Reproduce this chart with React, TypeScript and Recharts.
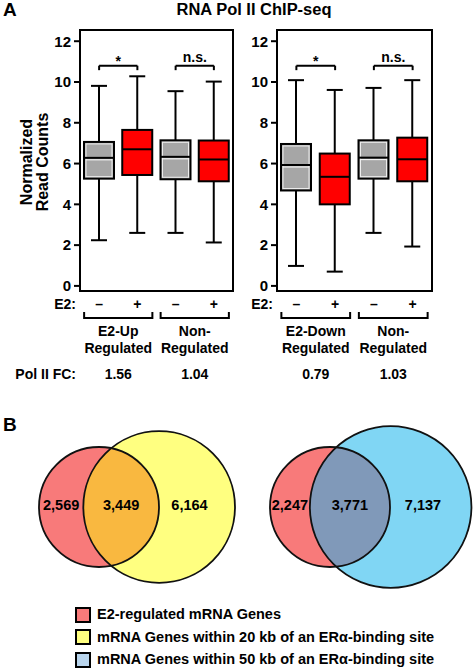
import React from "react";
import {
  ComposedChart,
  Bar,
  XAxis,
  YAxis,
  ReferenceLine,
  ReferenceArea,
  ScatterChart,
  Scatter,
  ZAxis,
} from "recharts";

const FONT = "'Liberation Sans', Arial, sans-serif";

// Panel A — box plot summaries, normalized read counts
const treatments = ["–", "+", "–", "+"];
const boxColors = ["#a6a6a6", "#ff0000", "#a6a6a6", "#ff0000"];

const upKeys = ["up-", "up+", "non-", "non+"];
const upMin = [2.24, 2.6, 2.6, 2.13];
const upQ1 = [5.26, 5.44, 5.23, 5.13];
const upMedian = [6.28, 6.7, 6.33, 6.2];
const upQ3 = [7.06, 7.65, 7.14, 7.13];
const upMax = [9.81, 10.28, 9.55, 10.02];
const upGroups = [["E2-Up", "Regulated"], ["Non-", "Regulated"]];
const upFoldChange = ["1.56", "1.04"];
const upSignif = ["*", "n.s."];

const downKeys = ["down-", "down+", "non-", "non+"];
const downMin = [0.98, 0.7, 2.6, 1.93];
const downQ1 = [4.68, 4.0, 5.26, 5.13];
const downMedian = [5.93, 5.35, 6.29, 6.21];
const downQ3 = [6.96, 6.49, 7.14, 7.27];
const downMax = [10.09, 9.61, 9.71, 10.09];
const downGroups = [["E2-Down", "Regulated"], ["Non-", "Regulated"]];
const downFoldChange = ["0.79", "1.03"];
const downSignif = ["*", "n.s."];

const yTicks = [0, 2, 4, 6, 8, 10, 12];
const yDomain = [-0.25, 12.55];
const bracketY = 10.8;

// Panel B — Venn counts: [E2-regulated only, overlap, ERα-bound only]
const venn20kb = [2569, 3449, 6164];
const venn50kb = [2247, 3771, 7137];
const legendLabels = [
  "E2-regulated mRNA Genes",
  "mRNA Genes within 20 kb of an ERα-binding site",
  "mRNA Genes within 50 kb of an ERα-binding site",
];
const legendColors = ["#f87a7a", "#ffff80", "#b8d4ec"];

const txt = { fill: "#000", fontWeight: 700, fontFamily: FONT };

function BoxShape(props: any) {
  const { x, y, width, height, payload } = props;
  const k = height / (payload.max - payload.min);
  const py = (v: number) => y + (payload.max - v) * k;
  const cx = x + width / 2;
  const gray = payload.color !== "#ff0000";
  return (
    <g>
      <line x1={cx} x2={cx} y1={py(payload.max)} y2={py(payload.min)} stroke="#000" strokeWidth={2} />
      <line x1={cx - 8} x2={cx + 8} y1={py(payload.max)} y2={py(payload.max)} stroke="#000" strokeWidth={2} />
      <line x1={cx - 8} x2={cx + 8} y1={py(payload.min)} y2={py(payload.min)} stroke="#000" strokeWidth={2} />
      <rect
        x={x}
        y={py(payload.q3)}
        width={width}
        height={py(payload.q1) - py(payload.q3)}
        fill={payload.color}
        stroke="#000"
        strokeWidth={2}
      />
      {gray && (
        <rect
          x={x + 2}
          y={py(payload.q3) + 2}
          width={width - 4}
          height={py(payload.q1) - py(payload.q3) - 4}
          fill="none"
          stroke="#fff"
          strokeWidth={1}
          opacity={0.8}
        />
      )}
      <line x1={x} x2={x + width} y1={py(payload.median)} y2={py(payload.median)} stroke="#000" strokeWidth={2} />
      {gray && (
        <line x1={x + 2} x2={x + width - 2} y1={py(payload.median) + 2} y2={py(payload.median) + 2} stroke="#fff" strokeWidth={1} />
      )}
    </g>
  );
}

interface PanelProps {
  keys: string[];
  min: number[];
  q1: number[];
  median: number[];
  q3: number[];
  max: number[];
  groups: string[][];
  foldChange: string[];
  signif: string[];
  left: number;
  margin: { top: number; right: number; bottom: number; left: number };
  showFcLabel?: boolean;
}

const CHART_W = 240;
const CHART_H = 390;
const AXIS_H = 99;

function BoxPanel(p: PanelProps) {
  const data = p.keys.map((key, i) => ({
    key,
    min: p.min[i],
    q1: p.q1[i],
    median: p.median[i],
    q3: p.q3[i],
    max: p.max[i],
    color: boxColors[i],
  }));
  const plotW = CHART_W - p.margin.left - p.margin.right - 40;
  const band = plotW / p.keys.length;

  const renderTick = (props: any) => {
    const { x, index } = props;
    const els: React.ReactNode[] = [];
    els.push(
      <text key="t" x={x} y={309} textAnchor="middle" fontSize={14} {...txt}>
        {treatments[index]}
      </text>
    );
    if (index === 0) {
      els.push(
        <text key="e2" x={x - band / 2 - 4} y={309} textAnchor="end" fontSize={14} {...txt}>
          E2:
        </text>
      );
      if (p.showFcLabel) {
        els.push(
          <text key="fc" x={x - band / 2 - 4} y={379} textAnchor="end" fontSize={14} {...txt}>
            Pol II FC:
          </text>
        );
      }
    }
    if (index % 2 === 0) {
      const g = index / 2;
      const gx = x + band / 2;
      els.push(
        <path
          key="br"
          d={`M${x - 15},312 V318 H${x + band + 15} V312`}
          fill="none"
          stroke="#000"
          strokeWidth={2}
        />,
        <text key="g1" x={gx} y={336} textAnchor="middle" fontSize={14} {...txt}>
          {p.groups[g][0]}
        </text>,
        <text key="g2" x={gx} y={353} textAnchor="middle" fontSize={14} {...txt}>
          {p.groups[g][1]}
        </text>,
        <text key="v" x={gx} y={379} textAnchor="middle" fontSize={14} {...txt}>
          {p.foldChange[g]}
        </text>
      );
    }
    return <g>{els}</g>;
  };

  return (
    <div style={{ position: "absolute", left: p.left, top: 0 }}>
      <ComposedChart width={CHART_W} height={CHART_H} data={data} margin={p.margin}>
        <XAxis
          dataKey="key"
          axisLine={false}
          tickLine={false}
          height={AXIS_H}
          interval={0}
          tick={renderTick}
        />
        <YAxis
          type="number"
          domain={yDomain}
          ticks={yTicks}
          interval={0}
          width={40}
          axisLine={false}
          tickSize={6}
          tickMargin={3}
          tickLine={{ stroke: "#000", strokeWidth: 2 }}
          tick={{ ...txt, fontSize: 15 }}
        />
        <ReferenceArea
          y1={yDomain[0]}
          y2={yDomain[1]}
          fill="none"
          stroke="#000"
          strokeWidth={2}
          fillOpacity={0}
          ifOverflow="visible"
        />
        {[0, 1].map((g) => [
          <ReferenceLine
            key={`h${g}`}
            segment={[
              { x: p.keys[2 * g], y: bracketY },
              { x: p.keys[2 * g + 1], y: bracketY },
            ]}
            stroke="#000"
            strokeWidth={2}
            ifOverflow="visible"
            label={{
              value: p.signif[g],
              position: "top",
              offset: p.signif[g] === "*" ? 0 : 4,
              fontSize: 14,
              ...txt,
            }}
          />,
          <ReferenceLine
            key={`l${g}`}
            segment={[
              { x: p.keys[2 * g], y: bracketY },
              { x: p.keys[2 * g], y: bracketY - 0.22 },
            ]}
            stroke="#000"
            strokeWidth={2}
            ifOverflow="visible"
          />,
          <ReferenceLine
            key={`r${g}`}
            segment={[
              { x: p.keys[2 * g + 1], y: bracketY },
              { x: p.keys[2 * g + 1], y: bracketY - 0.22 },
            ]}
            stroke="#000"
            strokeWidth={2}
            ifOverflow="visible"
          />,
        ])}
        <Bar
          dataKey={(d: any) => [d.min, d.max]}
          barSize={30}
          isAnimationActive={false}
          shape={BoxShape}
        />
      </ComposedChart>
    </div>
  );
}

// Venn geometry: circle area proportional to set size, centre distance solved from overlap
const VENN_AREA_PER_GENE = 1.88;
const VENN_Y = 107;
const vennAnchors = [99, 330];
const vennFill = ["#ffff80", "#80d6f4"];
const vennOverlap = ["#f9b840", "#8099b9"];
const vennRed = "#f87a7a";

function lensArea(r1: number, r2: number, d: number) {
  if (d >= r1 + r2) return 0;
  if (d <= Math.abs(r1 - r2)) return Math.PI * Math.min(r1, r2) ** 2;
  const a1 = Math.acos((d * d + r1 * r1 - r2 * r2) / (2 * d * r1));
  const a2 = Math.acos((d * d + r2 * r2 - r1 * r1) / (2 * d * r2));
  const t = Math.sqrt((-d + r1 + r2) * (d + r1 - r2) * (d - r1 + r2) * (d + r1 + r2));
  return r1 * r1 * a1 + r2 * r2 * a2 - 0.5 * t;
}

function solveDistance(r1: number, r2: number, target: number) {
  let lo = Math.abs(r1 - r2);
  let hi = r1 + r2;
  for (let i = 0; i < 60; i++) {
    const mid = (lo + hi) / 2;
    if (lensArea(r1, r2, mid) > target) lo = mid;
    else hi = mid;
  }
  return (lo + hi) / 2;
}

const vennSets = [venn20kb, venn50kb];
const radius = (n: number) => Math.sqrt((n * VENN_AREA_PER_GENE) / Math.PI);
const vennGeom = vennSets.map((c, i) => {
  const n1 = c[0] + c[1];
  const n2 = c[1] + c[2];
  const r1 = radius(n1);
  const r2 = radius(n2);
  const d = solveDistance(r1, r2, c[1] * VENN_AREA_PER_GENE);
  const x1 = vennAnchors[i];
  const x2 = x1 + d;
  return { n1, n2, r1, r2, x1, x2 };
});
const maxTotal = Math.max(...vennGeom.map((g) => g.n2));

const smallCircles = vennGeom.map((g, i) => ({ x: g.x1, y: VENN_Y, z: g.n1, i }));
const bigCircles = vennGeom.map((g, i) => ({ x: g.x2, y: VENN_Y, z: g.n2, i }));
const outlineCircles = [...smallCircles, ...bigCircles];
const vennLabels = vennGeom.flatMap((g, i) => [
  { x: (g.x1 - g.r1 + g.x2 - g.r2) / 2, y: VENN_Y, z: 0, text: vennSets[i][0].toLocaleString("en-US") },
  { x: (g.x2 - g.r2 + g.x1 + g.r1) / 2, y: VENN_Y, z: 0, text: vennSets[i][1].toLocaleString("en-US") },
  { x: g.x2 + 0.4 * g.r2, y: VENN_Y, z: 0, text: vennSets[i][2].toLocaleString("en-US") },
]);

const rOf = (props: any) =>
  props.size != null ? Math.sqrt(props.size / Math.PI) : props.width / 2;

function VennChart() {
  return (
    <div style={{ position: "absolute", left: 0, top: 400 }}>
      <ScatterChart width={475} height={200} margin={{ top: 0, right: 0, bottom: 0, left: 0 }}>
        <XAxis type="number" dataKey="x" domain={[0, 475]} hide />
        <YAxis type="number" dataKey="y" domain={[0, 200]} reversed hide />
        <ZAxis type="number" dataKey="z" domain={[0, maxTotal]} range={[0, maxTotal * VENN_AREA_PER_GENE]} />
        <Scatter
          data={smallCircles}
          isAnimationActive={false}
          shape={(props: any) => <circle cx={props.cx} cy={props.cy} r={rOf(props)} fill={vennRed} />}
        />
        <Scatter
          data={bigCircles}
          isAnimationActive={false}
          shape={(props: any) => (
            <g>
              <defs>
                <clipPath id={`venn-clip-${props.payload.i}`}>
                  <circle cx={props.cx} cy={props.cy} r={rOf(props)} />
                </clipPath>
              </defs>
              <circle cx={props.cx} cy={props.cy} r={rOf(props)} fill={vennFill[props.payload.i]} />
            </g>
          )}
        />
        <Scatter
          data={smallCircles}
          isAnimationActive={false}
          shape={(props: any) => (
            <circle
              cx={props.cx}
              cy={props.cy}
              r={rOf(props)}
              fill={vennOverlap[props.payload.i]}
              clipPath={`url(#venn-clip-${props.payload.i})`}
            />
          )}
        />
        <Scatter
          data={outlineCircles}
          isAnimationActive={false}
          shape={(props: any) => (
            <circle cx={props.cx} cy={props.cy} r={rOf(props)} fill="none" stroke="#111" strokeWidth={1.8} />
          )}
        />
        <Scatter
          data={vennLabels}
          isAnimationActive={false}
          shape={(props: any) => (
            <text x={props.cx} y={props.cy + 3} textAnchor="middle" fontSize={14.5} {...txt}>
              {props.payload.text}
            </text>
          )}
        />
      </ScatterChart>
    </div>
  );
}

export default function App() {
  return (
    <div
      style={{
        position: "absolute",
        left: 0,
        top: 0,
        width: 475,
        height: 669,
        background: "#fff",
        fontFamily: FONT,
        fontWeight: 700,
        overflow: "hidden",
      }}
    >
      <BoxPanel
        keys={upKeys}
        min={upMin}
        q1={upQ1}
        median={upMedian}
        q3={upQ3}
        max={upMax}
        groups={upGroups}
        foldChange={upFoldChange}
        signif={upSignif}
        left={0}
        margin={{ top: 30, right: 7, bottom: 0, left: 40 }}
        showFcLabel
      />
      <BoxPanel
        keys={downKeys}
        min={downMin}
        q1={downQ1}
        median={downMedian}
        q3={downQ3}
        max={downMax}
        groups={downGroups}
        foldChange={downFoldChange}
        signif={downSignif}
        left={235}
        margin={{ top: 30, right: 43, bottom: 0, left: 2 }}
      />
      <VennChart />
      {legendLabels.map((label, i) => (
        <div
          key={label}
          style={{
            position: "absolute",
            left: 75,
            top: 606 + i * 22.7,
            height: 17,
            display: "flex",
            alignItems: "center",
            whiteSpace: "nowrap",
          }}
        >
          <div
            style={{
              width: 16,
              height: 16,
              boxSizing: "border-box",
              border: "2px solid #000",
              background: legendColors[i],
            }}
          />
          <span style={{ marginLeft: 6, fontSize: 14.5, lineHeight: "17px" }}>{label}</span>
        </div>
      ))}
      <svg
        width={475}
        height={669}
        style={{ position: "absolute", left: 0, top: 0, pointerEvents: "none" }}
      >
        <text x={3} y={16} fontSize={19} {...txt}>A</text>
        <text
          x={254}
          y={15}
          fontSize={16}
          textAnchor="middle"
          textLength={155}
          lengthAdjust="spacingAndGlyphs"
          {...txt}
        >
          RNA Pol II ChIP-seq
        </text>
        <text x={32} y={162} fontSize={16} textAnchor="middle" transform="rotate(-90 32 162)" {...txt}>
          Normalized
        </text>
        <text x={48} y={162} fontSize={16} textAnchor="middle" transform="rotate(-90 48 162)" {...txt}>
          Read Counts
        </text>
        <text x={3} y={431} fontSize={19} {...txt}>B</text>
      </svg>
    </div>
  );
}
